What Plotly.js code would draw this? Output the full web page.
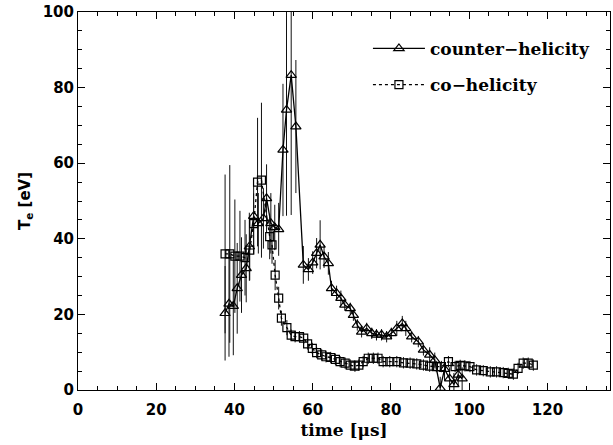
<!DOCTYPE html>
<html><head><meta charset="utf-8">
<script src="https://cdn.plot.ly/plotly-3.0.1.min.js"></script>
<style>html,body{margin:0;padding:0;background:#fff}#c{width:613px;height:445px}</style>
</head><body><div id="c"></div>
<script>
// counter-helicity
var tCounter = [37.6,38.6,39.7,40.7,41.8,43.0,43.8,44.9,46.1,47.4,48.2,49.3,50.3,51.3,52.4,53.3,54.5,55.7,57.6,58.9,60.0,61.0,61.9,62.9,64.0,64.8,66.1,67.2,68.2,69.6,70.4,71.4,72.5,73.8,75.1,76.3,77.6,78.9,80.1,81.5,82.9,83.8,85.3,87.0,88.3,89.9,91.2,92.6,93.7,95.0,96.1,97.2,98.2];
var teCounter = [20.3,22.8,22.2,26.9,30.4,32.2,37.9,46,44.1,45.4,50.7,44.1,43,42.5,63.5,74.1,83.3,69.7,33.1,31.9,33.7,36.2,38.4,35.3,33.5,26.9,25.6,24.3,22.5,21.6,19.8,17.2,15.4,16.3,15,14.6,14.6,14.1,15,16.3,17.6,16.3,14.1,12.8,10.6,9.3,7.9,0.5,5.5,3,1.5,4,3];
var errCounter = [12.5,14,13,12,10,9,9,8,8,8,9,8,6,7,17.5,28,37,17.6,5,3,3,4,6.5,3,3,2,2,2,1.5,1.5,1.5,1.5,1.5,1.5,1.5,1.5,1.5,1.5,1.5,2,2,2,1.5,1.5,1.5,2,2,3,3,3,3,3,3];
// co-helicity
var tCo = [37.6,38.8,40.1,41.4,42.7,43.9,44.9,45.9,46.9,49.0,49.6,50.4,51.3,52.0,53.4,54.5,55.5,56.6,57.7,58.7,59.9,61.0,62.3,63.4,64.6,65.8,67.0,68.3,69.6,70.8,71.8,72.9,74.2,75.5,76.7,78.0,79.7,81.5,83.2,84.9,86.6,88.3,89.9,91.6,92.9,94.7,96.4,97.7,98.9,100.2,101.9,103.6,105.4,107.0,108.7,110.0,111.3,112.5,113.8,115.1,116.4];
var teCo = [36,36,35.4,35.4,35,37,44,55,55.5,40.6,38.4,30.4,24.3,19,16.5,14.5,14.1,14.1,13.7,12.2,11,9.9,9.3,8.8,8.6,8.1,7.5,7.1,6.6,6.3,6.6,7.5,8.4,8.4,8.4,7.5,7.5,7.5,7.2,7.1,6.9,6.6,6.3,6.2,6.2,7.5,6.2,6.5,6.4,6.2,5.3,5.1,4.8,4.8,4.6,4.4,4.2,5.7,7.1,7.1,6.6];
var errCo = [21,23.5,15,12,10,8,8,17,20.5,6,5,4,3,2,2,1.5,1.5,1.5,1.5,1.5,1.5,1.5,1.5,1.5,1.5,1.5,1.5,1.5,1.5,1.5,1.5,1.5,1.5,1.5,1.5,1.5,1.5,1.5,1.5,1.5,1.5,1.5,1.5,1.5,1.5,1.5,1.5,1.5,1.5,1.5,1.5,1.5,1.5,1.5,1.5,1.5,1.5,1.5,1.5,1.5,1.5];

var txtFont = {family:'DejaVu Serif', size:17, color:'#000', weight:'bold'};
var tickFont = {family:'DejaVu Sans', size:15, color:'#000', weight:'bold'};

var traces = [
 {x:tCounter, y:teCounter, name:'counter\u2212helicity', type:'scatter', mode:'lines+markers',
  line:{color:'#000', width:1.3},
  marker:{symbol:'triangle-up-open', size:9, color:'#000', line:{width:1.2, color:'#000'}},
  error_y:{type:'data', array:errCounter, visible:true, color:'#111', thickness:1, width:0},
  legendgroup:'a'},
 {x:tCo, y:teCo, name:'co\u2212helicity', type:'scatter', mode:'lines+markers',
  line:{color:'#000', width:1.3, dash:'dot'},
  marker:{symbol:'square-open', size:8, color:'#000', line:{width:1.2, color:'#000'}},
  error_y:{type:'data', array:errCo, visible:true, color:'#111', thickness:1, width:0},
  legendgroup:'b'}
];

var axBase = {showgrid:false, zeroline:false, showline:true, linecolor:'#000', linewidth:1,
  ticks:'inside', ticklen:7, tickwidth:1, tickcolor:'#000', mirror:'ticks', tickfont:tickFont,
  minor:{ticks:'inside', ticklen:4, tickwidth:1, tickcolor:'#000', dtick:5}};

var layout = {
  width:613, height:445, paper_bgcolor:'#fff', plot_bgcolor:'#fff',
  margin:{l:78, r:3, t:12, b:55},
  showlegend:true,
  legend:{x:0.545, y:0.95, xanchor:'left', yanchor:'top', bgcolor:'rgba(0,0,0,0)',
    font:txtFont, traceorder:'grouped', tracegroupgap:11, itemwidth:52},
  xaxis:Object.assign({}, axBase, {range:[0,136], dtick:20, tick0:0, ticklabelstandoff:6,
    title:{text:'time [\u03bcs]', font:txtFont, standoff:6}}),
  yaxis:Object.assign({}, axBase, {range:[0,100], dtick:20, tick0:0,
    title:{text:'T<sub>e</sub> [eV]', font:{family:'DejaVu Sans', size:15, color:'#000', weight:'bold'}, standoff:8}})
};
Plotly.newPlot('c', traces, layout, {displayModeBar:false, staticPlot:true});
</script></body></html>
